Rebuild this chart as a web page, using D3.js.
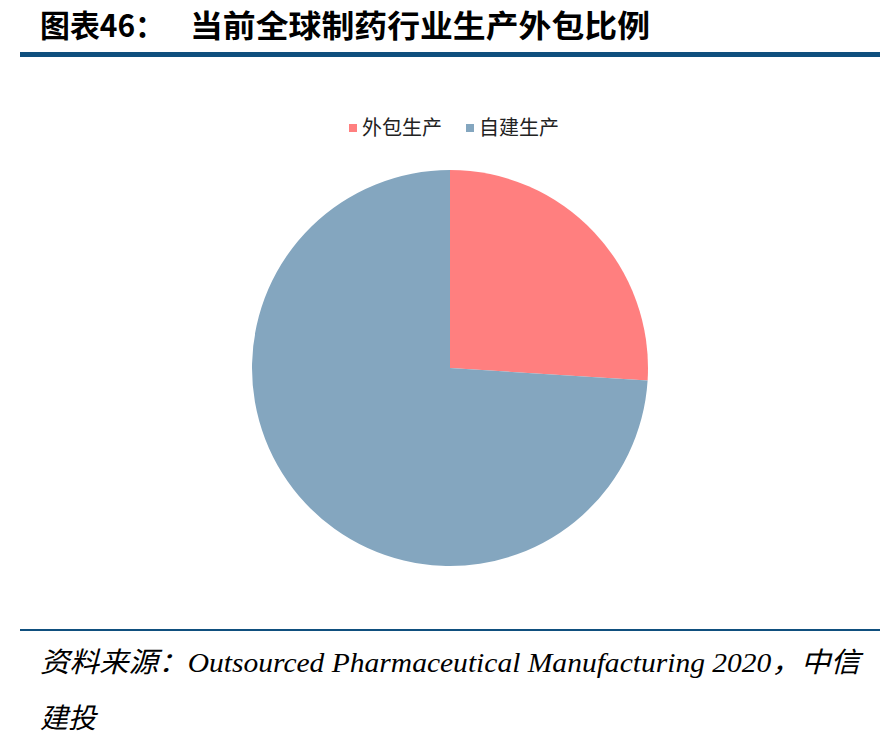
<!DOCTYPE html>
<html>
<head>
<meta charset="utf-8">
<script src="https://cdn.jsdelivr.net/npm/d3@7"></script>
<style>
  body { margin: 0; background: #fff; }
</style>
</head>
<body>
<div id="chart"></div>
<script>
const categories = ["外包生产", "自建生产"];
const shares = [26, 74];
const colors = ["#FF7F7F", "#84A6BF"];

const width = 887,
  height = 751;

const svg = d3
  .select("#chart")
  .append("svg")
  .attr("width", width)
  .attr("height", height);

// title
svg
  .append("text")
  .attr("x", 40)
  .attr("y", 37)
  .attr("font-family", "'Noto Sans CJK SC', sans-serif")
  .attr("font-weight", "bold")
  .attr("font-size", 31)
  .attr("textLength", 125)
  .attr("lengthAdjust", "spacingAndGlyphs")
  .text("图表46：");

svg
  .append("text")
  .attr("x", 190)
  .attr("y", 37)
  .attr("font-family", "'Noto Sans CJK SC', sans-serif")
  .attr("font-weight", "bold")
  .attr("font-size", 31)
  .attr("textLength", 460)
  .attr("lengthAdjust", "spacingAndGlyphs")
  .text("当前全球制药行业生产外包比例");

svg
  .append("rect")
  .attr("x", 20)
  .attr("y", 52)
  .attr("width", 860)
  .attr("height", 5)
  .attr("fill", "#0F4F7E");

// legend
const legend = svg
  .selectAll(".legend")
  .data(categories)
  .enter()
  .append("g")
  .attr("class", "legend")
  .attr("transform", (d, i) => `translate(${349 + i * 117},128)`);

legend
  .append("rect")
  .attr("x", 0)
  .attr("y", -4)
  .attr("width", 8)
  .attr("height", 8)
  .attr("fill", (d, i) => colors[i]);

legend
  .append("text")
  .attr("x", 13)
  .attr("y", 7)
  .attr("font-family", "'Noto Sans CJK SC', sans-serif")
  .attr("font-size", 20)
  .attr("fill", "#222")
  .text((d) => d);

// pie
const pie = d3.pie().sort(null)(shares);
const arc = d3.arc().innerRadius(0).outerRadius(198);

svg
  .append("g")
  .attr("transform", "translate(450,368)")
  .selectAll("path")
  .data(pie)
  .enter()
  .append("path")
  .attr("d", arc)
  .attr("fill", (d, i) => colors[i]);

// footer
svg
  .append("rect")
  .attr("x", 20)
  .attr("y", 629)
  .attr("width", 860)
  .attr("height", 2)
  .attr("fill", "#0F4F7E");

svg
  .append("text")
  .attr("x", 40)
  .attr("y", 672)
  .attr("font-family", "'Liberation Serif', 'Noto Sans CJK SC', serif")
  .attr("font-style", "italic")
  .attr("font-size", 28)
  .attr("textLength", 820)
  .attr("lengthAdjust", "spacingAndGlyphs")
  .text("资料来源：Outsourced Pharmaceutical Manufacturing 2020，中信");

svg
  .append("text")
  .attr("x", 40)
  .attr("y", 728)
  .attr("font-family", "'Liberation Serif', 'Noto Sans CJK SC', serif")
  .attr("font-style", "italic")
  .attr("font-size", 28)
  .text("建投");
</script>
</body>
</html>
